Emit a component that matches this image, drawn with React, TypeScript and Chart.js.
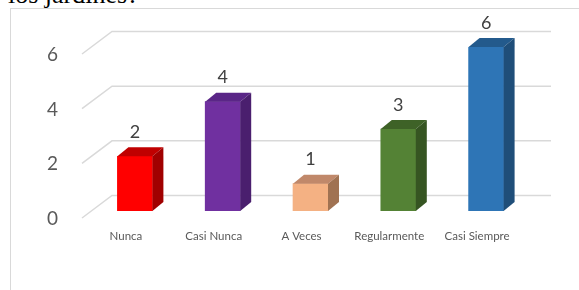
import React, { useEffect, useRef } from "react";
import { Chart, registerables } from "chart.js";

Chart.register(...registerables);

const categories = ["Nunca", "Casi Nunca", "A Veces", "Regularmente", "Casi Siempre"];
const values = [2, 4, 1, 3, 6];
const frontColors = ["#FF0000", "#7030A0", "#F4B183", "#548235", "#2E75B6"];
const topColors = ["#C00000", "#5A2687", "#C0886A", "#3E6227", "#235A8C"];
const sideColors = ["#A00000", "#4A1F6E", "#A07252", "#365522", "#1F4E79"];
const yTicks = [0, 2, 4, 6];

const DX = 11;
const DY = 9;

const threeD = {
  id: "threeD",
  beforeDatasetsDraw(chart: any) {
    const { ctx, chartArea, scales } = chart;
    const y = scales.y;
    ctx.save();
    ctx.strokeStyle = "#D9D9D9";
    ctx.lineWidth = 1.5;
    yTicks.forEach((v) => {
      const py = y.getPixelForValue(v);
      ctx.beginPath();
      ctx.moveTo(chartArea.left - 9, py + 7);
      ctx.lineTo(chartArea.left + 21, py - 15.5);
      ctx.lineTo(chartArea.right + 21, py - 15.5);
      ctx.stroke();
    });
    ctx.restore();
  },
  afterDatasetsDraw(chart: any) {
    const { ctx } = chart;
    const meta = chart.getDatasetMeta(0);
    ctx.save();
    meta.data.forEach((bar: any, i: number) => {
      const { x, y, base, width } = bar.getProps(["x", "y", "base", "width"], true);
      const l = x - width / 2;
      const r = x + width / 2;
      ctx.fillStyle = topColors[i];
      ctx.beginPath();
      ctx.moveTo(l, y);
      ctx.lineTo(l + DX, y - DY);
      ctx.lineTo(r + DX, y - DY);
      ctx.lineTo(r, y);
      ctx.closePath();
      ctx.fill();
      ctx.fillStyle = sideColors[i];
      ctx.beginPath();
      ctx.moveTo(r, y);
      ctx.lineTo(r + DX, y - DY);
      ctx.lineTo(r + DX, base - DY);
      ctx.lineTo(r, base);
      ctx.closePath();
      ctx.fill();
      ctx.fillStyle = "#404040";
      ctx.font = "18px Lato";
      ctx.textAlign = "center";
      ctx.textBaseline = "middle";
      ctx.fillText(String(values[i]), x, y - 24);
    });
    ctx.restore();
  },
};

export default function App() {
  const ref = useRef<HTMLCanvasElement | null>(null);
  useEffect(() => {
    if (!ref.current) return;
    const chart = new Chart(ref.current, {
      type: "bar",
      data: {
        labels: categories,
        datasets: [
          {
            data: values,
            backgroundColor: frontColors,
            borderWidth: 0,
            barThickness: 35,
          },
        ],
      },
      options: {
        animation: false,
        responsive: false,
        layout: { padding: { left: 0, right: 49, top: 47, bottom: 0 } },
        plugins: { legend: { display: false }, tooltip: { enabled: false } },
        scales: {
          x: {
            grid: { display: false, drawTicks: false },
            border: { display: false },
            ticks: {
              font: { family: "Lato", size: 11.5 },
              color: "#595959",
              labelOffset: -9,
              padding: 18,
              maxRotation: 0,
              autoSkip: false,
            },
            afterFit: (s: any) => {
              s.height = 79;
            },
          },
          y: {
            min: 0,
            max: 6,
            grid: { display: false, drawTicks: false },
            border: { display: false },
            ticks: {
              stepSize: 2,
              font: { family: "Lato", size: 19 },
              color: "#595959",
              labelOffset: 8,
              padding: 33,
            },
            afterFit: (s: any) => {
              s.width = 91;
            },
          },
        },
      },
      plugins: [threeD],
    });
    return () => chart.destroy();
  }, []);

  return (
    <div style={{ position: "fixed", left: 0, top: 0, width: 579, height: 290, overflow: "hidden", background: "#fff" }}>
      <div
        style={{
          position: "absolute",
          left: 8,
          top: -18,
          fontFamily: "'Liberation Serif', serif",
          fontSize: 26,
          lineHeight: "26px",
          color: "#000",
          whiteSpace: "nowrap",
        }}
      >
        los jardines?
      </div>
      <div
        style={{
          position: "absolute",
          left: 10,
          top: 8,
          width: 600,
          height: 300,
          borderLeft: "1.5px solid #D9D9D9",
          borderTop: "1.5px solid #D9D9D9",
        }}
      />
      <canvas ref={ref} width={579} height={290} style={{ position: "absolute", left: 0, top: 0 }} />
    </div>
  );
}
